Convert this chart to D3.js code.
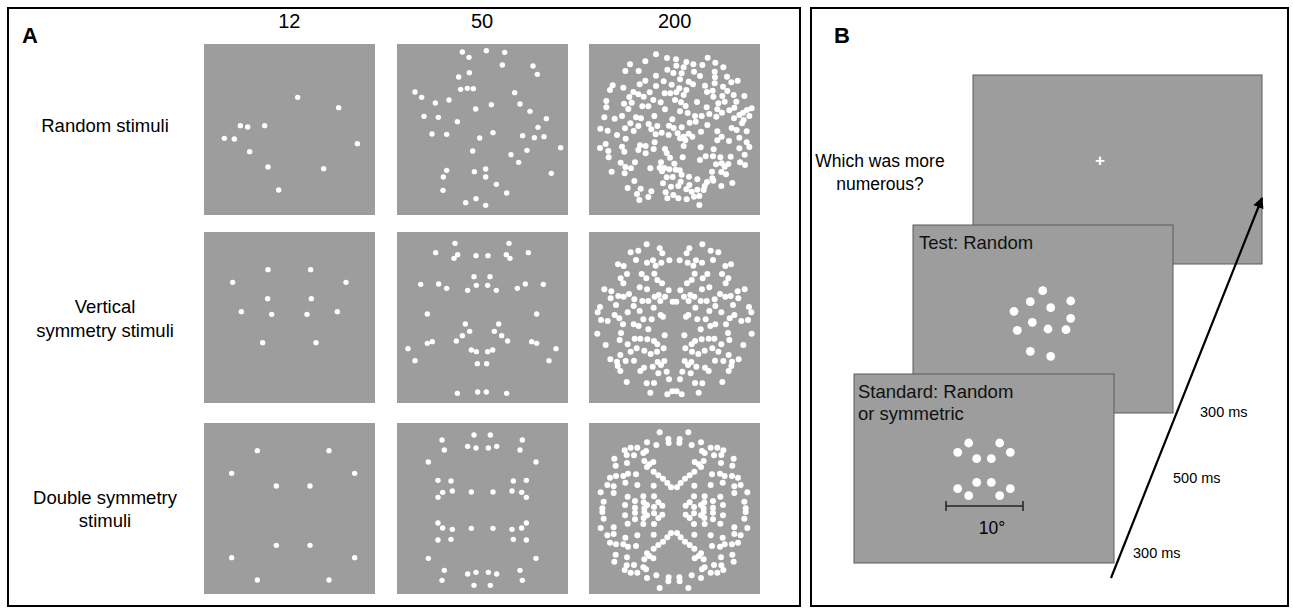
<!DOCTYPE html>
<html><head><meta charset="utf-8">
<script src="https://cdn.jsdelivr.net/npm/d3@7/dist/d3.min.js"></script>
<style>body{margin:0;background:#fff}svg{display:block}text{font-family:"Liberation Sans",Arial,sans-serif}</style>
</head><body><div id="chart"></div>
<script>
// ---------- DATA (dot positions in "reading units", 1 unit = 1/3 px of the reference frame) ----------
const numerosities = ["12", "50", "200"];
const stimulusTypes = [["Random stimuli"], ["Vertical", "symmetry stimuli"], ["Double symmetry", "stimuli"]];

const random12 = [[293,172],[416,203],[121,257],[143,261],[194,257],[73,295],[103,297],[472,311],[149,335],[204,381],[371,386],[236,450]];
const vertical12 = [[204,119],[332,119],[98,157],[438,157],[203,206],[334,206],[124,245],[412,245],[215,253],[321,253],[188,338],[348,338]];
const double12 = [[172,92],[387,92],[95,160],[464,160],[229,198],[330,198],[229,376],[330,376],[95,413],[464,413],[172,480],[387,480]];

const random50 = [[202,36],[222,52],[274,32],[329,37],[322,75],[414,78],[427,103],[223,98],[191,111],[197,148],[217,145],[235,146],[60,156],[80,172],[121,189],[162,180],[359,158],[375,192],[289,194],[242,207],[405,214],[454,236],[87,229],[130,232],[187,245],[429,262],[111,282],[155,283],[294,278],[254,294],[383,287],[418,293],[447,290],[497,323],[233,333],[348,344],[396,331],[371,367],[155,391],[145,411],[238,395],[272,387],[272,411],[469,400],[304,433],[144,451],[335,459],[212,488],[243,476],[272,496]];
// left half; mirrored about axisX
const vertical50Half = [[180,40],[122,68],[188,74],[177,85],[243,77],[237,140],[244,166],[218,181],[155,175],[131,162],[77,163],[97,252],[211,282],[224,304],[202,317],[184,333],[97,340],[112,335],[39,356],[60,392],[229,360],[244,365],[247,401],[187,490],[248,486]];
const vertical50Axis = 261;
// top-left quadrant; mirrored about axisX and axisY
const double50Quad = [[141,60],[148,90],[237,45],[218,79],[243,84],[100,126],[129,181],[168,183],[143,217],[129,232],[172,213],[229,216]];
const double50Axes = [261.5, 270.5];

const random200 = [[213,43],[246,54],[273,58],[368,53],[181,64],[304,66],[325,73],[135,73],[391,68],[274,77],[352,75],[296,82],[415,82],
[121,93],[161,93],[247,89],[265,99],[327,95],[290,100],[389,95],[213,107],[345,108],[390,112],[426,110],
[181,122],[285,118],[311,125],[236,124],[164,133],[389,130],[439,127],[458,122],[83,136],[115,143],[213,138],[260,134],[324,133],[414,140],[360,137],
[75,150],[145,156],[194,157],[283,145],[304,150],[239,160],[256,160],[274,157],[366,156],[383,152],[427,153],
[160,163],[176,170],[296,165],[412,168],[446,165],[478,168],[133,171],[385,170],
[64,183],[205,180],[270,180],[336,186],[288,187],[117,191],[227,187],[140,188],[400,190],[419,185],[454,185],
[64,202],[172,199],[190,199],[130,207],[302,198],[365,202],[240,208],[397,208],[433,211],[448,203],[486,210],[500,205],
[285,214],[308,219],[463,225],[350,228],[373,222],[411,218],[474,218],
[58,232],[89,236],[111,228],[153,232],[168,235],[208,228],[330,228],[262,238],[394,230],[447,235],[493,228],[476,240],
[191,252],[217,258],[252,257],[314,248],[332,245],[367,255],[471,250],[136,250],[160,258],
[46,266],[68,272],[120,265],[96,285],[146,273],[199,268],[230,278],[266,264],[290,262],[348,275],[440,264],[455,270],[485,274],[278,280],[311,281],
[212,283],[251,285],[397,274],[410,290],[296,290],[285,295],[322,290],[122,296],[463,293],
[209,307],[301,301],[397,301],[432,303],[485,307],[62,312],[165,316],[182,318],[111,320],
[45,324],[70,333],[160,330],[182,340],[118,335],[206,327],[240,327],[296,318],[347,322],[386,328],[463,325],[493,321],[245,339],
[71,352],[255,353],[293,352],[362,349],[384,349],[406,352],[437,350],[479,344],[345,360],
[107,368],[150,367],[228,367],[268,371],[393,373],[410,370],[430,372],[465,367],[238,384],[480,375],
[121,381],[138,385],[196,385],[224,383],[253,388],[272,389],[419,380],
[80,395],[119,400],[231,394],[284,391],[381,395],[409,396],[290,404],
[245,412],[263,411],[312,410],[337,418],[423,403],[382,415],
[148,423],[287,425],[366,426],[385,422],[442,429],[234,430],
[128,444],[258,440],[280,438],[409,438],[167,446],[304,448],[313,435],[337,449],[356,450],[359,438],
[156,462],[199,454],[242,457],[320,455],[343,468],[327,470],[190,471],[247,475],[265,465],[305,478],[163,480],[280,475],[343,495]];

const vertical200Half = [[185,58],[160,77],[137,82],[224,70],[232,85],[153,105],[186,113],[204,106],[212,122],[229,113],[99,118],[116,123],[253,106],
[126,147],[107,160],[170,147],[184,160],[208,146],[217,165],[231,175],[115,175],[58,193],[79,199],[100,213],[116,215],[164,187],[186,193],
[132,207],[148,223],[172,228],[190,228],[209,215],[221,210],[240,215],[226,228],[251,196],[263,230],[77,220],[45,246],[93,240],[38,262],
[146,243],[164,258],[206,248],[227,270],[89,270],[103,280],[128,262],[48,285],[68,288],[114,298],[146,298],[161,303],[175,283],[200,283],
[190,313],[234,275],[37,326],[108,324],[239,331],[149,341],[166,341],[104,345],[187,343],[207,348],[62,360],[128,358],[155,370],[217,358],
[137,380],[178,377],[197,387],[216,380],[236,370],[106,390],[122,408],[76,403],[96,410],[147,407],[98,423],[218,411],[238,408],[228,420],
[203,425],[177,428],[106,438],[166,438],[245,440],[220,445],[252,463],[125,471],[185,475],[207,474],[196,503],[247,508],[262,499]];
const vertical200Axis = 268.5;

const double200Quad = [[224,52],[250,72],[251,84],[186,82],[214,90],[157,98],[137,98],[119,106],[183,108],[125,120],[147,121],[175,114],
[88,131],[126,144],[92,152],[178,138],[193,148],[205,141],[186,156],[206,170],[220,181],[234,191],[247,204],[258,217],
[75,188],[93,183],[115,183],[129,176],[153,178],[67,210],[86,214],[121,203],[157,210],[206,212],[47,232],[86,234],[128,245],
[175,244],[207,244],[56,260],[150,258],[176,262],[220,262],[232,272],[52,280],[178,280],[207,276],[120,270],[150,278],[186,270]];
const double200Axes = [267, 285.5];

const testDots = [[1042.7,290.7],[1030.3,301.7],[1070.7,301],[1014,311.3],[1050.7,307.7],[1070.7,318.3],[1032.3,322.3],[1017.3,330.3],[1048,329],[1066,329.7],[1030.3,351.3],[1050.7,356.3]];
const standardDots = [[968.7,443],[999.7,443],[957.7,452.3],[1010.3,452.3],[976.7,458.7],[991.3,458.7],[976.7,482.3],[991.3,482.3],[957.7,488.7],[1010.3,488.7],[968.7,495.7],[999.7,495.7]];
const timeLabels = ["300 ms", "500 ms", "300 ms"];
const screenLabels = {fix: ["Which was more", "numerous?"], test: "Test: Random", std: ["Standard: Random", "or symmetric"], scale: "10°"};

// ---------- helpers ----------
function mirrorX(pts, ax) { return pts.concat(pts.map(p => [2*ax - p[0], p[1]])); }
function mirrorXY(pts, axes) { const h = mirrorX(pts, axes[0]); return h.concat(h.map(p => [p[0], 2*axes[1] - p[1]])); }

const panels = [
  [random12, random50, random200],
  [vertical12, mirrorX(vertical50Half, vertical50Axis), mirrorX(vertical200Half, vertical200Axis)],
  [double12, mirrorXY(double50Quad, double50Axes), mirrorXY(double200Quad, double200Axes)]
];

// ---------- LAYOUT ----------
const W = 1293, H = 608;
const colX = [204, 397, 589], rowY = [44, 232, 423], SQ = 171;
const frames = [[[200,40],[395,40],[585,40]],[[200,230],[395,230],[585,225]],[[200,420],[395,420],[585,415]]];
const dotR = [2.7, 2.7, 3.0];
const GRAY = "#9c9d9c";

const svg = d3.select("#chart").append("svg").attr("width", W).attr("height", H);

svg.append("rect").attr("x", 8).attr("y", 8).attr("width", 792).attr("height", 598).attr("fill", "none").attr("stroke", "#000").attr("stroke-width", 2);
svg.append("rect").attr("x", 811).attr("y", 8).attr("width", 477).attr("height", 598).attr("fill", "none").attr("stroke", "#000").attr("stroke-width", 2);
svg.append("text").attr("x", 22).attr("y", 43).attr("font-size", 22).attr("font-weight", "bold").text("A");
svg.append("text").attr("x", 834).attr("y", 43).attr("font-size", 22).attr("font-weight", "bold").text("B");

const colScale = d3.scaleBand().domain(numerosities).range([colX[0], colX[2] + SQ]).paddingInner(22 / 193);
svg.selectAll("text.col").data(numerosities).join("text").attr("class", "col")
  .attr("x", d => colScale(d) + colScale.bandwidth() / 2).attr("y", 28)
  .attr("text-anchor", "middle").attr("font-size", 20).text(d => d);

const rowLabelY = [[132], [313, 337], [504, 527]];
stimulusTypes.forEach((lines, r) => {
  lines.forEach((t, i) => svg.append("text").attr("x", 105).attr("y", rowLabelY[r][i])
    .attr("text-anchor", "middle").attr("font-size", 18.5).text(t));
});

panels.forEach((row, r) => row.forEach((pts, c) => {
  const g = svg.append("g");
  g.append("rect").attr("x", colX[c]).attr("y", rowY[r]).attr("width", SQ).attr("height", SQ).attr("fill", GRAY);
  const fx = frames[r][c];
  const x = d3.scaleLinear().domain([0, 3]).range([fx[0], fx[0] + 1]);
  const y = d3.scaleLinear().domain([0, 3]).range([fx[1], fx[1] + 1]);
  g.selectAll("circle").data(pts).join("circle")
    .attr("cx", d => x(d[0])).attr("cy", d => y(d[1])).attr("r", dotR[c]).attr("fill", "#fff");
}));

// ---------- PANEL B ----------
const screens = [
  {x: 973, y: 75, w: 289, h: 189},
  {x: 913, y: 225, w: 260, h: 188},
  {x: 854, y: 374, w: 260, h: 189}
];
screens.forEach(s => svg.append("rect").attr("x", s.x).attr("y", s.y).attr("width", s.w).attr("height", s.h)
  .attr("fill", GRAY).attr("stroke", "#5a5a5a").attr("stroke-width", 1));

svg.append("text").attr("x", 1100).attr("y", 166).attr("text-anchor", "middle").attr("font-size", 17).attr("font-weight", "bold").attr("fill", "#fff").text("+");
screenLabels.fix.forEach((t, i) => svg.append("text").attr("x", 880).attr("y", 167 + i * 23).attr("text-anchor", "middle").attr("font-size", 17.5).text(t));
svg.append("text").attr("x", 919).attr("y", 249).attr("font-size", 18.5).attr("fill", "#111").text(screenLabels.test);
screenLabels.std.forEach((t, i) => svg.append("text").attr("x", 858).attr("y", 398 + i * 22).attr("font-size", 18.5).attr("fill", "#111").text(t));

const px = d3.scaleLinear().domain([0, W]).range([0, W]);
svg.selectAll("circle.test").data(testDots).join("circle").attr("class", "test")
  .attr("cx", d => px(d[0])).attr("cy", d => px(d[1])).attr("r", 4.4).attr("fill", "#fff");
svg.selectAll("circle.std").data(standardDots).join("circle").attr("class", "std")
  .attr("cx", d => px(d[0])).attr("cy", d => px(d[1])).attr("r", 4.4).attr("fill", "#fff");

const sb = svg.append("g").attr("stroke", "#222").attr("stroke-width", 1.5);
sb.append("line").attr("x1", 946).attr("x2", 1023).attr("y1", 506).attr("y2", 506);
sb.append("line").attr("x1", 946).attr("x2", 946).attr("y1", 501).attr("y2", 511);
sb.append("line").attr("x1", 1023).attr("x2", 1023).attr("y1", 501).attr("y2", 511);
svg.append("text").attr("x", 992).attr("y", 534).attr("text-anchor", "middle").attr("font-size", 17.5).text(screenLabels.scale);

svg.append("defs").append("marker").attr("id", "ah").attr("viewBox", "0 0 10 10").attr("refX", 9).attr("refY", 5)
  .attr("markerWidth", 5).attr("markerHeight", 5).attr("orient", "auto")
  .append("path").attr("d", "M0,0 L10,5 L0,10 z").attr("fill", "#000");
svg.append("line").attr("x1", 1111).attr("y1", 578).attr("x2", 1262).attr("y2", 198)
  .attr("stroke", "#000").attr("stroke-width", 2.2).attr("marker-end", "url(#ah)");

const timePos = [[1200, 417], [1173, 483], [1133, 558]];
timeLabels.forEach((t, i) => svg.append("text").attr("x", timePos[i][0]).attr("y", timePos[i][1]).attr("font-size", 14.5).text(t));
</script></body></html>
